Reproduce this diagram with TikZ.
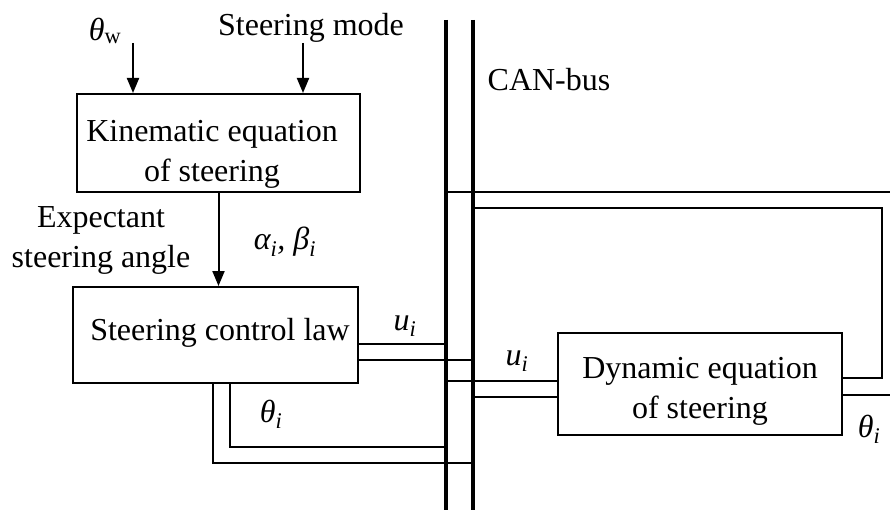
\documentclass[tikz,border=0pt]{standalone}
\usepackage{fontspec}
\setmainfont{Liberation Serif}
\usetikzlibrary{arrows.meta}
\begin{document}
\begin{tikzpicture}[x=1pt,y=-1pt,
  txt/.style={font=\fontsize{32}{40}\selectfont, inner sep=0pt, align=center},
  blk/.style={draw, line width=2pt, rectangle, inner sep=0pt},
  wire/.style={line width=2pt},
  bus/.style={line width=3.5pt},
  arr/.style={line width=2pt, -{Triangle[length=15pt,width=12pt]}}]
\useasboundingbox (0,0) rectangle (890,510);
% blocks
\node[blk, minimum width=283pt, minimum height=98pt] (kin) at (218.5,143) {};
\node[txt] (kintxt) at (212,154) {Kinematic equation\\of steering};
\node[blk, minimum width=285pt, minimum height=96pt] (ctrl) at (215.5,335) {};
\node[txt] (ctrltxt) at (220,333) {Steering control law};
\node[blk, minimum width=284pt, minimum height=102pt] (dyn) at (700,384) {};
\node[txt] (dyntxt) at (700,391) {Dynamic equation\\of steering};
% bus
\coordinate (b1t) at (446,20); \coordinate (b1b) at (446,510);
\coordinate (b2t) at (473,20); \coordinate (b2b) at (473,510);
\draw[bus] (b1t) -- (b1b);
\draw[bus] (b2t) -- (b2b);
\node[txt] (can) at (549,80) {CAN-bus};
% inputs
\coordinate (tw) at (133,43);
\coordinate (sm) at (303,43);
\draw[arr] (tw) -- (tw |- kin.north);
\draw[arr] (sm) -- (sm |- kin.north);
\node[txt] (thw) at (105,31) {\itshape θ\textsubscript{\upshape w}};
\node[txt] (smode) at (311,28) {Steering mode};
% kin -> ctrl
\draw[arr] (kin.south) -- (kin.south |- ctrl.north);
\node[txt] (exp) at (101,240) {Expectant\\steering angle};
\node[txt] (ab) at (285,242) {\itshape α\textsubscript{i}, β\textsubscript{i}};
% ctrl outputs
\draw[wire] (ctrl.east |- 0,344) -- (b1t |- 0,344);
\draw[wire] (ctrl.east |- 0,360) -- (b2t |- 0,360);
\node[txt] (u1) at (405,326) {\itshape u\textsubscript{i}};
\draw[wire] (ctrl.south -| 230,0) -- (230,447) -- (b1t |- 0,447);
\draw[wire] (ctrl.south -| 213,0) -- (213,463) -- (b2t |- 0,463);
\node[txt] (th1) at (271,414) {\itshape θ\textsubscript{i}};
% dyn inputs
\draw[wire] (b1t |- 0,381) -- (dyn.west |- 0,381);
\draw[wire] (b2t |- 0,397) -- (dyn.west |- 0,397);
\node[txt] (u2) at (517,361) {\itshape u\textsubscript{i}};
% dyn outputs
\coordinate (rc) at (882,208);
\draw[wire] (dyn.east |- 0,378) -- (rc |- 0,378) -- (rc) -- (b2t |- rc);
\coordinate (re) at (890,192);
\draw[wire] (b1t |- re) -- (re);
\coordinate (re2) at (890,395);
\draw[wire] (dyn.east |- re2) -- (re2);
\node[txt] (th2) at (869,429) {\itshape θ\textsubscript{i}};
\end{tikzpicture}
\end{document}
